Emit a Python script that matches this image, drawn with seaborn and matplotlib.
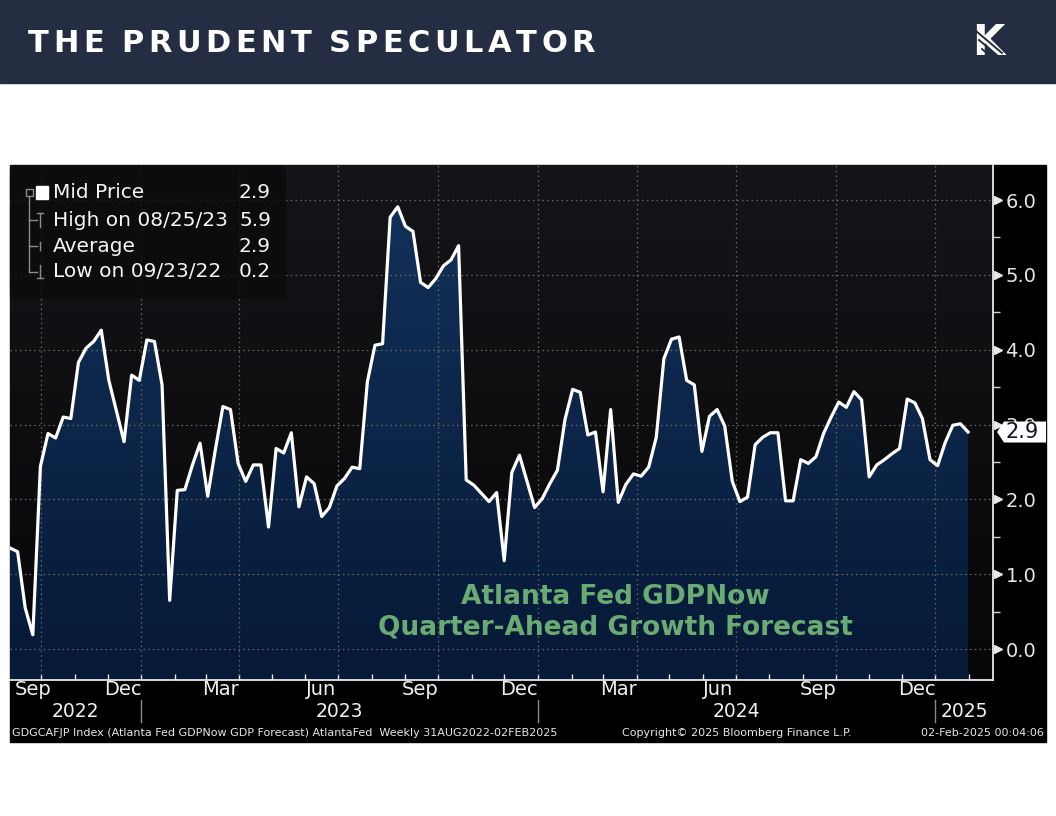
import numpy as np
import pandas as pd
import matplotlib
matplotlib.use("Agg")
import matplotlib.pyplot as plt
import matplotlib.dates as mdates
import matplotlib.transforms as mtransforms
from matplotlib.patches import Rectangle, Polygon, FancyBboxPatch
from matplotlib.colors import LinearSegmentedColormap
import seaborn as sns

# Atlanta Fed GDPNow, weekly readings (Fridays) from 02 Sep 2022 to 31 Jan 2025
week_start = "2022-09-02"
gdpnow = [
    1.35, 1.30, 0.55, 0.19, 2.44, 2.88, 2.82, 3.10, 3.08, 3.83,
    4.02, 4.11, 4.26, 3.59, 3.18, 2.77, 3.66, 3.59, 4.13, 4.11,
    3.53, 0.65, 2.12, 2.13, 2.46, 2.75, 2.04, 2.66, 3.24, 3.20,
    2.48, 2.24, 2.46, 2.46, 1.63, 2.68, 2.62, 2.89, 1.90, 2.30,
    2.21, 1.77, 1.89, 2.18, 2.28, 2.43, 2.41, 3.57, 4.06, 4.08,
    5.77, 5.91, 5.65, 5.58, 4.90, 4.83, 4.95, 5.12, 5.20, 5.39,
    2.26, 2.19, 2.08, 1.97, 2.09, 1.18, 2.36, 2.59, 2.24, 1.89,
    2.01, 2.21, 2.39, 3.07, 3.47, 3.43, 2.86, 2.90, 2.10, 3.20,
    1.96, 2.20, 2.34, 2.31, 2.43, 2.83, 3.88, 4.14, 4.17, 3.59,
    3.53, 2.64, 3.11, 3.20, 2.98, 2.24, 1.97, 2.03, 2.73, 2.83,
    2.89, 2.89, 1.98, 1.98, 2.53, 2.48, 2.57, 2.88, 3.10, 3.30,
    3.23, 3.44, 3.33, 2.30, 2.46, 2.53, 2.61, 2.68, 3.34, 3.29,
    3.08, 2.53, 2.45, 2.76, 2.99, 3.01, 2.90,
]

legend_names = ["Mid Price", "High on 08/25/23", "Average", "Low on 09/23/22"]
legend_values = ["2.9", "5.9", "2.9", "0.2"]

month_names = ["Sep", "Dec", "Mar", "Jun", "Sep", "Dec", "Mar", "Jun", "Sep", "Dec"]
month_keys = ["2022-09", "2022-12", "2023-03", "2023-06", "2023-09",
              "2023-12", "2024-03", "2024-06", "2024-09", "2024-12"]
year_names = ["2022", "2023", "2024", "2025"]
y_ticks = [0, 1, 2, 3, 4, 5, 6]

title = "THE PRUDENT SPECULATOR"
note = "Atlanta Fed GDPNow\nQuarter-Ahead Growth Forecast"
footer_left = "GDGCAFJP Index (Atlanta Fed GDPNow GDP Forecast) AtlantaFed  Weekly 31AUG2022-02FEB2025"
footer_mid = "Copyright\u00a9 2025 Bloomberg Finance L.P."
footer_right = "02-Feb-2025 00:04:06"

dates = pd.date_range(week_start, periods=len(gdpnow), freq="7D")
df = pd.DataFrame({"date": dates, "gdpnow": gdpnow})

# ---- figure in pixel terms
W, H = 1056, 816
fig = plt.figure(figsize=(W / 100, H / 100), dpi=100)
fig.patch.set_facecolor("white")


def fx(px):
    return px / W


def fy(py):
    return 1 - py / H


fig.patches.append(Rectangle((0, fy(83)), 1, 83 / H, transform=fig.transFigure,
                             color="#252d42", zorder=-10))
fig.patches.append(Rectangle((fx(10), fy(742)), fx(1046) - fx(10), (742 - 165) / H,
                             transform=fig.transFigure, color="black", zorder=-10))

ax = fig.add_axes([fx(10), fy(680), fx(993) - fx(10), (680 - 165) / H])
x0 = dates[0]
x1 = pd.Timestamp("2025-02-23")
ymin, ymax = -0.414, 6.468

sns.lineplot(data=df, x="date", y="gdpnow", color="white", linewidth=2.3,
             ax=ax, zorder=5)

ext = [mdates.date2num(x0), mdates.date2num(x1), ymin, ymax]
bg_cmap = LinearSegmentedColormap.from_list("bg", ["#070709", "#151519"])
ax.imshow(np.linspace(1, 0, 256).reshape(-1, 1), cmap=bg_cmap, extent=ext,
          aspect="auto", zorder=0)

fill = ax.fill_between(df["date"], df["gdpnow"], ymin, color="none", lw=0)
navy_cmap = LinearSegmentedColormap.from_list("navy", ["#061936", "#13325c"])
grad = ax.imshow(np.linspace(1, 0, 256).reshape(-1, 1), cmap=navy_cmap, extent=ext,
                 aspect="auto", zorder=1)
grad.set_clip_path(fill.get_paths()[0], transform=ax.transData)

# dotted grid
for v in y_ticks:
    ax.axhline(v, color="#6a6a6a", lw=0.9, ls=(0, (1.2, 2.6)), zorder=2)
for d in pd.date_range("2022-10-01", "2025-01-01", freq="QS"):
    ax.axvline(d, color="#6a6a6a", lw=0.9, ls=(0, (1.2, 2.6)), zorder=2)

ax.set_xlim(x0, x1)
ax.set_ylim(ymin, ymax)
ax.set_xlabel("")
ax.set_ylabel("")

for s in ["left", "top"]:
    ax.spines[s].set_visible(False)
for s in ["right", "bottom"]:
    ax.spines[s].set_color("#e8e8e8")
    ax.spines[s].set_linewidth(1.3)

# right axis
ax.yaxis.tick_right()
ax.set_yticks(y_ticks)
ax.set_yticklabels([f"{v:.1f}" for v in y_ticks])
ax.set_yticks([v + 0.5 for v in y_ticks[:-1]], minor=True)
ax.tick_params(axis="y", which="major", length=0, pad=9, labelsize=14,
               labelcolor="#e6e6e6")
ax.tick_params(axis="y", which="minor", length=5, width=1, color="#d0d0d0",
               direction="out")
ytr = mtransforms.blended_transform_factory(ax.transAxes, ax.transData)
ax.plot([1.005] * len(y_ticks), y_ticks, ls="none", marker=">", ms=6,
        color="#e8e8e8", transform=ytr, clip_on=False, zorder=6)

# bottom axis: month ticks, mid-month labels, year row
ax.set_xticks(pd.date_range("2022-10-01", "2025-02-01", freq="MS"))
ax.set_xticklabels([])
ax.set_xticks([], minor=True)
ax.tick_params(axis="x", which="major", direction="in", length=4, width=1,
               color="#e8e8e8")
xtr = mtransforms.blended_transform_factory(ax.transData, ax.transAxes)
for name, key in zip(month_names, month_keys):
    pos = max(pd.Timestamp(key + "-01") + pd.Timedelta(days=14),
              x0 + pd.Timedelta(days=21))
    ax.text(pos, -0.0175, name, transform=xtr, ha="center", va="center",
            color="#f0f0f0", fontsize=14, family=["Liberation Sans Narrow", "DejaVu Sans"])

bounds = [x0] + [pd.Timestamp(f"{y}-01-01") for y in year_names[1:]] + [x1]
for i, name in enumerate(year_names):
    mid = bounds[i] + (bounds[i + 1] - bounds[i]) / 2
    ax.text(mid, -0.061, name, transform=xtr, ha="center", va="center",
            color="#f0f0f0", fontsize=13.5, family="DejaVu Sans")
for b in bounds[1:-1]:
    ax.plot([b, b], [-0.039, -0.082], color="#8a8a8a", lw=1, transform=xtr,
            clip_on=False)

# last value tag (covers the 3.0 label as in the terminal view)
last = gdpnow[-1]
hh = 10.5 / 74.83
tag = Polygon([(1.0041, last), (1.0112, last + hh), (1.054, last + hh),
               (1.054, last - hh), (1.0112, last - hh)], closed=True,
              facecolor="white", edgecolor="none", transform=ytr,
              clip_on=False, zorder=7)
ax.add_patch(tag)
ax.text(1.0125, last, f"{last:.1f}", transform=ytr, ha="left", va="center",
        fontsize=15, color="#0c1428", zorder=8, clip_on=False)

# note inside the chart
fig.text(fx(615), fy(612), note, ha="center", va="center", fontsize=19,
         fontweight="bold", color="#6aab74", linespacing=1.25, zorder=4)

# legend box
fig.patches.append(FancyBboxPatch((fx(13), fy(296)), fx(283) - fx(13), (296 - 168) / H,
                                  boxstyle="round,pad=0.003,rounding_size=0.006",
                                  transform=fig.transFigure, facecolor="#0b0b0d",
                                  edgecolor="none", alpha=0.8, zorder=5))
rows_y = [193, 220, 246, 272]
for name, val, ry in zip(legend_names, legend_values, rows_y):
    fig.text(fx(53), fy(ry), name, ha="left", va="center", fontsize=14.5,
             color="#f4f4f4", zorder=7)
    fig.text(fx(271), fy(ry), val, ha="right", va="center", fontsize=14.5,
             color="#f4f4f4", zorder=7)
tree_c = "#8c8c8c"
fig.patches.append(Rectangle((fx(36), fy(199)), 12 / W, 13 / H, transform=fig.transFigure,
                             color="white", zorder=7))
fig.patches.append(Rectangle((fx(25.5), fy(196)), 7 / W, 7 / H, transform=fig.transFigure,
                             facecolor="none", edgecolor=tree_c, lw=1, zorder=7))
fig.lines.append(plt.Line2D([fx(29), fx(29)], [fy(196), fy(272)], color=tree_c, lw=1,
                            transform=fig.transFigure, zorder=7))
for ry in rows_y[1:]:
    fig.lines.append(plt.Line2D([fx(29), fx(37)], [fy(ry), fy(ry)], color=tree_c, lw=1,
                                transform=fig.transFigure, zorder=7))
fig.lines.append(plt.Line2D([fx(40), fx(40)], [fy(213), fy(227)], color=tree_c, lw=1,
                            transform=fig.transFigure, zorder=7))
fig.lines.append(plt.Line2D([fx(37), fx(43)], [fy(213), fy(213)], color=tree_c, lw=1,
                            transform=fig.transFigure, zorder=7))
fig.lines.append(plt.Line2D([fx(40), fx(40)], [fy(242), fy(250)], color=tree_c, lw=1,
                            transform=fig.transFigure, zorder=7))
fig.lines.append(plt.Line2D([fx(40), fx(40)], [fy(265), fy(278)], color=tree_c, lw=1,
                            transform=fig.transFigure, zorder=7))
fig.lines.append(plt.Line2D([fx(37), fx(43)], [fy(278), fy(278)], color=tree_c, lw=1,
                            transform=fig.transFigure, zorder=7))

# footer line
foot = dict(fontsize=8, color="#e6e6e6", va="center",
            family=["Liberation Sans Narrow", "DejaVu Sans"])
fig.text(fx(12), fy(733), footer_left, ha="left", **foot)
fig.text(fx(737), fy(733), footer_mid, ha="center", **foot)
fig.text(fx(1044), fy(733), footer_right, ha="right", **foot)

# header title with letter spacing
renderer = fig.canvas.get_renderer()
tprops = dict(color="white", fontsize=22, fontweight="bold", family="DejaVu Sans",
              va="baseline", ha="left")
chars = []
total = 0.0
for ch in title:
    if ch == " ":
        chars.append((None, 8.0))
        total += 8.0
        continue
    t = fig.text(0, fy(52), ch, **tprops)
    w = t.get_window_extent(renderer).width
    chars.append((t, w))
    total += w
track = (567 - total) / (len(title) - 1)
xpos = 28.0
for t, w in chars:
    if t is not None:
        t.set_x(fx(xpos))
    xpos += w + track

# logo
fig.text(fx(988), fy(43), "K", ha="center", va="center", fontsize=30,
         fontweight="bold", color="white", family="DejaVu Sans")
for k in range(3):
    fig.lines.append(plt.Line2D([fx(976 + 3 * k), fx(1002 + 3 * k)],
                                [fy(31 + 9 * k), fy(53 + 9 * k)], color="#252d42",
                                lw=1.4, transform=fig.transFigure, zorder=5))

fig.savefig("out.png", dpi=100, facecolor="white")
